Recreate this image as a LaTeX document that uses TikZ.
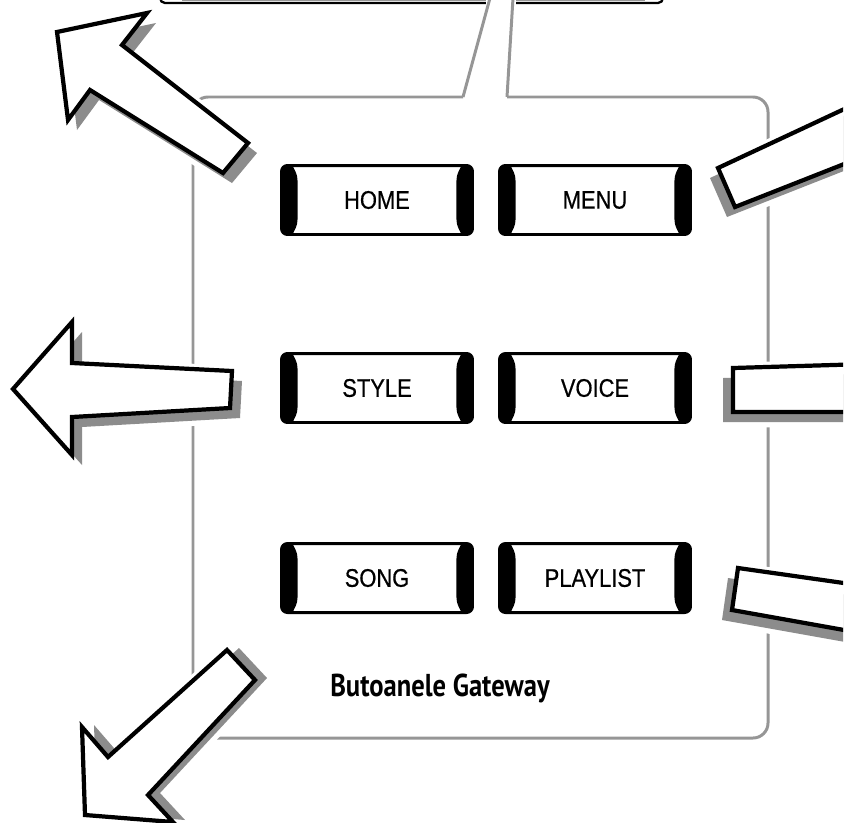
\documentclass[tikz,border=0pt]{standalone}
\usepackage{fontspec}
\newfontfamily\btnfont[FakeStretch=0.86,FakeBold=0.6]{Liberation Sans}
\newfontfamily\captionfont[FakeStretch=0.84]{PT Sans}
\definecolor{panelgray}{RGB}{150,150,150}
\definecolor{shadowgray}{RGB}{140,140,140}
\tikzset{
  panelline/.style={draw=panelgray,line width=1.7pt,rounded corners=0.3cm},
  arrowhalo/.style={draw=white,fill=white,line width=6pt,line join=round},
  arrowshadow/.style={fill=shadowgray},
  arrowline/.style={draw=black,fill=white,line width=2.4pt},
  gwbutton/.style={draw,line width=1.7pt,rounded corners=0.12cm,fill=white,
    minimum width=3.82cm,minimum height=1.38cm,font=\btnfont\fontsize{14.5}{17}\selectfont,
    path picture={
      \fill[black,sharp corners] ([xshift=-2pt]path picture bounding box.south west)
        -- ([xshift=-2pt]path picture bounding box.north west)
        -- ([xshift=0.22cm]path picture bounding box.north west)
        to[out=-65,in=90] ([xshift=0.32cm,yshift=-0.3cm]path picture bounding box.north west)
        -- ([xshift=0.32cm,yshift=0.3cm]path picture bounding box.south west)
        to[out=-90,in=65] ([xshift=0.22cm]path picture bounding box.south west) -- cycle;
      \fill[black,sharp corners] ([xshift=2pt]path picture bounding box.south east)
        -- ([xshift=2pt]path picture bounding box.north east)
        -- ([xshift=-0.22cm]path picture bounding box.north east)
        to[out=-115,in=90] ([xshift=-0.32cm,yshift=-0.3cm]path picture bounding box.north east)
        -- ([xshift=-0.32cm,yshift=0.3cm]path picture bounding box.south east)
        to[out=-90,in=115] ([xshift=-0.22cm]path picture bounding box.south east) -- cycle;
    }}
}
% #1 = shadow offset, #2 = outline of the arrow
\newcommand{\padarrow}[2]{%
  \path[arrowhalo,shift={#1}] #2 -- cycle;
  \path[arrowhalo] #2 -- cycle;
  \path[arrowshadow,shift={#1}] #2 -- cycle;
  \path[arrowline] #2 -- cycle;}
\begin{document}
\begin{tikzpicture}[x=0.02cm,y=-0.02cm]
\clip (0,0) rectangle (851,822);
% zoomed box above
\draw[line width=1.3pt,rounded corners=0.1cm] (160,-30) rectangle (663,3);
\draw[panelgray,line width=1pt] (182,0) -- (645,0);
% panel with callout
\draw[panelline] (463,97) -- (193,97) -- (193,738) -- (768,738) -- (768,97) -- (507,97);
\fill[white] (486,-2) rectangle (516,6);
\draw[panelgray,line width=1.7pt] (463,97) -- (490,-2);
\draw[panelgray,line width=1.7pt] (507,97) -- (513,-2);
% buttons
\node[gwbutton] (btnhome) at (377,200) {HOME};
\node[gwbutton] (btnmenu) at (595,200) {MENU};
\node[gwbutton] (btnstyle) at (377,388) {STYLE};
\node[gwbutton] (btnvoice) at (595,388) {VOICE};
\node[gwbutton] (btnsong) at (377,578) {SONG};
\node[gwbutton] (btnplaylist) at (595,578) {PLAYLIST};
\node[font=\captionfont\bfseries\fontsize{18}{21}\selectfont,anchor=base] (caption) at (440,696) {Butoanele Gateway};
% arrows on the left
\padarrow{(9,10)}{(57,32) -- (147,13) -- (122,45) -- (248,143) -- (223,173) -- (90,90) -- (68,120)}
\padarrow{(10,10)}{(13,389) -- (72,322) -- (72,363) -- (232,371) -- (230,408) -- (72,417) -- (72,455)}
\padarrow{(12,-2)}{(85,815) -- (82,727) -- (108,757) -- (227,650) -- (255,680) -- (148,795) -- (173,822)}
% arrows on the right, cut at the edge
\begin{scope}
\clip (0,0) rectangle (843,822);
\padarrow{(-8,10)}{(718,168) -- (900,83) -- (900,142) -- (735,207)}
\padarrow{(-10,10)}{(733,368) -- (900,363) -- (900,412) -- (733,412)}
\padarrow{(-10,10)}{(738,568) -- (900,591) -- (900,640) -- (732,610)}
\end{scope}
\end{tikzpicture}
\end{document}
